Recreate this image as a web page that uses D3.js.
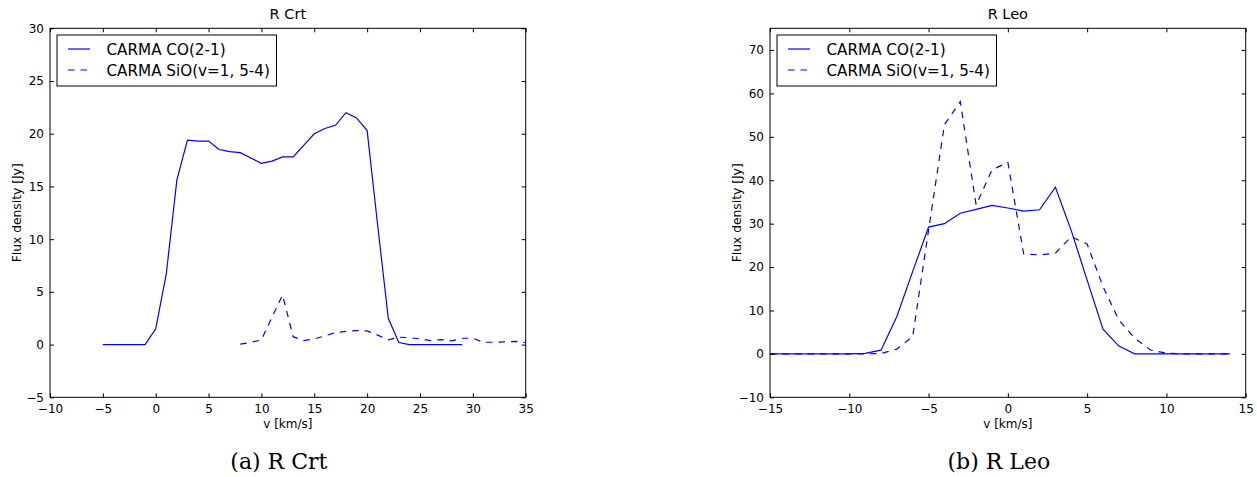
<html>
<head>
<meta charset="utf-8">
<script src='https://d3js.org/d3.v7.min.js'></script>
<style>
body {margin: 0; background: white;}
text {font-family: 'DejaVu Sans', sans-serif;}
.tick text {font-size: 12px;}
</style>
</head>
<body onload='init()'>
<svg width=1257 height=477></svg>
<script>
// R Crt spectra
var crtCoV = [-5,-4,-3,-2,-1,0,1,2,3,4,5,6,7,8,9,10,11,12,13,14,15,16,17,18,19,20,21,22,23,24,25,26,27,28,29];
var crtCoFlux = [0,0,0,0,0,1.5,6.7,15.6,19.4,19.3,19.3,18.5,18.3,18.2,17.7,17.2,17.4,17.8,17.8,18.9,20.0,20.5,20.8,22.0,21.5,20.3,11.3,2.5,0.2,0,0,0,0,0,0];
var crtSioV = [8,9,10,11,12,13,14,15,16,17,18,19,20,21,22,23,24,25,26,27,28,29,30,31,32,33,34,35];
var crtSioFlux = [0.05,0.2,0.45,2.6,4.7,0.75,0.38,0.54,0.82,1.14,1.26,1.33,1.3,0.9,0.44,0.7,0.66,0.54,0.38,0.47,0.35,0.6,0.6,0.22,0.22,0.25,0.3,0.19];

// R Leo spectra
var leoV = [-15,-14,-13,-12,-11,-10,-9,-8,-7,-6,-5,-4,-3,-2,-1,0,1,2,3,4,5,6,7,8,9,10,11,12,13,14];
var leoCoFlux = [0,0,0,0,0,0,0.1,0.85,8.6,19,29.2,30.0,32.4,33.3,34.2,33.6,32.9,33.2,38.4,28.4,17.0,5.7,1.8,0,0,0,0,0,0,0];
var leoSioFlux = [0,0,0,0,0,0,0,0.1,1.1,4.0,28.5,52.8,58.1,34.3,42.4,44.1,23.0,22.8,23.2,27.0,25.3,15.5,7.8,3.6,0.9,0.15,0,0,0,0];

var crtXTicks = [-10,-5,0,5,10,15,20,25,30,35];
var crtYTicks = [-5,0,5,10,15,20,25,30];
var leoXTicks = [-15,-10,-5,0,5,10,15];
var leoYTicks = [-10,0,10,20,30,40,50,60,70];

var legendNames = ["CARMA CO(2-1)", "CARMA SiO(v=1, 5-4)"];

function init() {
	var svg = d3.select("svg");
	svg.append("rect").attr("width",1257).attr("height",477).attr("fill","white");

	var top = 28.3, height = 369, width = 475.7;
	var fmt = d => d < 0 ? "\u2212" + Math.abs(d) : String(d);

	function panel(left, title, caption, xDom, yDom, xTicks, yTicks, series, id) {
		var x = d3.scaleLinear().domain(xDom).range([0,width]);
		var y = d3.scaleLinear().domain(yDom).range([height,0]);
		var g = svg.append("g").attr("transform","translate("+left+","+top+")");

		g.append("clipPath").attr("id","clip"+id).append("rect").attr("width",width).attr("height",height);

		var line = d3.line().x(d => x(d[0])).y(d => y(d[1]));
		series.forEach(function(s) {
			g.append("path")
				.datum(d3.zip(s.v, s.f))
				.attr("d", line)
				.attr("clip-path","url(#clip"+id+")")
				.attr("fill","none")
				.attr("stroke","#0000ff")
				.attr("stroke-width",1.2)
				.attr("stroke-dasharray", s.dash ? "6.5,6" : null);
		});

		// ticks on all four sides, pointing inward
		g.append("g").attr("transform","translate(0,"+height+")")
			.call(d3.axisBottom(x).tickValues(xTicks).tickSize(-4).tickPadding(7).tickFormat(fmt));
		g.append("g").call(d3.axisTop(x).tickValues(xTicks).tickSize(-4).tickFormat(""));
		g.append("g").call(d3.axisLeft(y).tickValues(yTicks).tickSize(-4).tickPadding(6).tickFormat(fmt));
		g.append("g").attr("transform","translate("+width+",0)")
			.call(d3.axisRight(y).tickValues(yTicks).tickSize(-4).tickFormat(""));
		g.selectAll(".domain").remove();
		g.selectAll(".tick text").attr("fill","black").style("font-size","12px");
		g.selectAll(".tick line").attr("stroke","black");

		g.append("rect").attr("width",width).attr("height",height)
			.attr("fill","none").attr("stroke","black").attr("stroke-width",1);

		// legend
		var lg = g.append("g").attr("transform","translate(7,6.7)");
		lg.append("rect").attr("width",219.5).attr("height",51).attr("fill","white")
			.attr("stroke","black").attr("stroke-width",1);
		legendNames.forEach(function(n,i) {
			var yy = 14 + i*21;
			lg.append("line").attr("x1",11).attr("x2",33).attr("y1",yy).attr("y2",yy)
				.attr("stroke","#0000ff").attr("stroke-width",1.2)
				.attr("stroke-dasharray", i==1 ? "6.5,6" : null);
			lg.append("text").attr("x",49.5).attr("y",yy+5.5).text(n).style("font-size","15.2px");
		});

		g.append("text").attr("x",width/2).attr("y",-9).attr("text-anchor","middle")
			.text(title).style("font-size","14.5px");
		g.append("text").attr("x",width/2).attr("y",height+31).attr("text-anchor","middle")
			.text("v [km/s]").style("font-size","12px");
		g.append("text").attr("transform","translate(-29,"+(height/2)+") rotate(-90)")
			.attr("text-anchor","middle").text("Flux density [Jy]").style("font-size","12.3px");
		g.append("text").attr("x",width/2 - 9).attr("y",height+72).attr("text-anchor","middle")
			.text(caption).style("font-family","'DejaVu Serif', serif").style("font-size","22px");
	}

	panel(50, "R Crt", "(a) R Crt", [-10,35], [-5,30], crtXTicks, crtYTicks,
		[{v: crtCoV, f: crtCoFlux}, {v: crtSioV, f: crtSioFlux, dash: true}], "a");
	panel(770, "R Leo", "(b) R Leo", [-15,15], [-10,75], leoXTicks, leoYTicks,
		[{v: leoV, f: leoCoFlux}, {v: leoV, f: leoSioFlux, dash: true}], "b");
}
</script>
</body>
</html>
